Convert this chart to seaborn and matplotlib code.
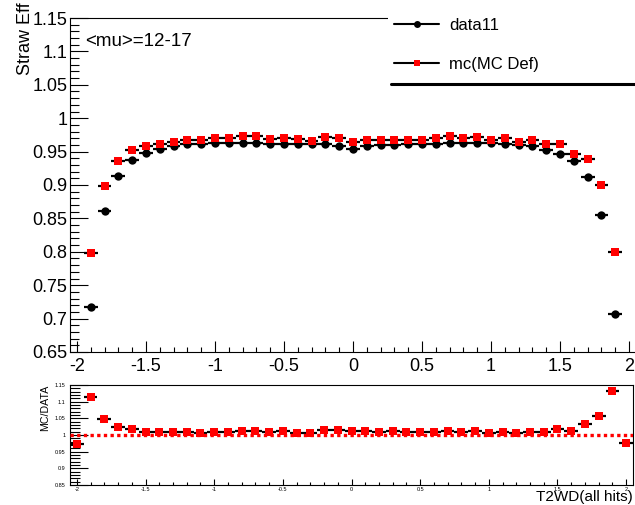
import numpy as np
import pandas as pd
import matplotlib
matplotlib.use("Agg")
import matplotlib.pyplot as plt
from matplotlib.ticker import MultipleLocator, FuncFormatter
from matplotlib.lines import Line2D
from matplotlib.patches import Rectangle
import seaborn as sns

# ---------------- data ----------------
bin_centers = [-1.9, -1.8, -1.7, -1.6, -1.5, -1.4, -1.3, -1.2, -1.1, -1.0,
               -0.9, -0.8, -0.7, -0.6, -0.5, -0.4, -0.3, -0.2, -0.1, 0.0,
               0.1, 0.2, 0.3, 0.4, 0.5, 0.6, 0.7, 0.8, 0.9, 1.0,
               1.1, 1.2, 1.3, 1.4, 1.5, 1.6, 1.7, 1.8, 1.9]
data11 = [0.718, 0.861, 0.914, 0.937, 0.948, 0.954, 0.958, 0.961, 0.962, 0.963,
          0.963, 0.963, 0.963, 0.962, 0.962, 0.962, 0.961, 0.961, 0.959, 0.954,
          0.959, 0.960, 0.960, 0.961, 0.961, 0.961, 0.963, 0.963, 0.963, 0.963,
          0.961, 0.960, 0.959, 0.952, 0.947, 0.936, 0.912, 0.855, 0.707]
mc_def = [0.798, 0.899, 0.936, 0.953, 0.958, 0.962, 0.965, 0.967, 0.967, 0.970,
          0.971, 0.973, 0.973, 0.969, 0.971, 0.969, 0.966, 0.972, 0.971, 0.964,
          0.968, 0.968, 0.968, 0.968, 0.968, 0.970, 0.974, 0.971, 0.972, 0.968,
          0.970, 0.965, 0.967, 0.961, 0.961, 0.946, 0.939, 0.900, 0.800]

ratio_x = [-2.0, -1.9, -1.8, -1.7, -1.6, -1.5, -1.4, -1.3, -1.2, -1.1, -1.0,
           -0.9, -0.8, -0.7, -0.6, -0.5, -0.4, -0.3, -0.2, -0.1, 0.0,
           0.1, 0.2, 0.3, 0.4, 0.5, 0.6, 0.7, 0.8, 0.9, 1.0,
           1.1, 1.2, 1.3, 1.4, 1.5, 1.6, 1.7, 1.8, 1.9, 2.0]
ratio = [0.973, 1.115, 1.047, 1.025, 1.017, 1.009, 1.009, 1.009, 1.009, 1.007, 1.009,
         1.009, 1.012, 1.012, 1.009, 1.012, 1.007, 1.005, 1.015, 1.015, 1.011,
         1.011, 1.009, 1.012, 1.009, 1.009, 1.009, 1.012, 1.009, 1.012, 1.007,
         1.009, 1.007, 1.009, 1.009, 1.017, 1.011, 1.032, 1.057, 1.133, 0.975]
half_bin = 0.05

top_df = pd.DataFrame({"x": bin_centers, "data11": data11, "mc": mc_def})
rat_df = pd.DataFrame({"x": ratio_x, "ratio": ratio})

# ---------------- style ----------------
sns.set_style("ticks", rc={"axes.edgecolor": "black", "xtick.color": "black",
                           "ytick.color": "black", "text.color": "black",
                           "axes.labelcolor": "black", "axes.linewidth": 0.8})
plt.rcParams["font.family"] = ["Liberation Sans", "DejaVu Sans"]

W, H = 635, 505
fig = plt.figure(figsize=(W / 100, H / 100), dpi=100)
fig.patch.set_facecolor("white")

ax = fig.add_axes([70 / W, 153 / H, 566 / W, 334 / H])
axr = fig.add_axes([70 / W, 20 / H, 563 / W, 100 / H])

gfmt = FuncFormatter(lambda v, p: f"{v:g}")

# ---------------- top panel ----------------
ax.hlines(top_df["data11"], top_df["x"] - half_bin, top_df["x"] + half_bin,
          color="black", lw=1.6, zorder=2)
ax.hlines(top_df["mc"], top_df["x"] - half_bin, top_df["x"] + half_bin,
          color="black", lw=1.6, zorder=2)
sns.scatterplot(data=top_df, x="x", y="data11", marker="o", color="black",
                s=36, linewidth=0, ax=ax, zorder=3, legend=False)
sns.scatterplot(data=top_df, x="x", y="mc", marker="s", color="red",
                s=28, linewidth=0, ax=ax, zorder=4, legend=False)

ax.set_xlim(-2.05, 2.05)
ax.set_ylim(0.65, 1.15)
ax.set_xlabel("")
ax.set_ylabel("")
ax.xaxis.set_major_locator(MultipleLocator(0.5))
ax.xaxis.set_minor_locator(MultipleLocator(0.1))
ax.yaxis.set_major_locator(MultipleLocator(0.05))
ax.yaxis.set_minor_locator(MultipleLocator(0.01))
ax.xaxis.set_major_formatter(gfmt)
ax.yaxis.set_major_formatter(gfmt)
ax.tick_params(axis="y", which="major", direction="in", length=12.7, width=0.8,
               labelsize=13, pad=2)
ax.tick_params(axis="y", which="minor", direction="in", length=6.7, width=0.8)
ax.tick_params(axis="x", which="major", direction="in", length=7.6, width=0.8,
               labelsize=13, pad=4)
ax.tick_params(axis="x", which="minor", direction="in", length=3.6, width=0.8)

fig.text(25 / W, 1 - 2 / H, "Straw Eff", rotation=90, ha="center", va="top",
         fontsize=13)
fig.text(85 / W, 1 - 42 / H, "<mu>=12-17", ha="left", va="center", fontsize=13.5)

# legend box
fig.add_artist(Rectangle((388 / W, 1 - 83 / H), 247 / W, 83 / H,
                         transform=fig.transFigure, facecolor="white",
                         edgecolor="none", zorder=5))
fig.add_artist(Line2D([391 / W, 1.0], [1 - 83.5 / H, 1 - 83.5 / H],
                      transform=fig.transFigure, color="black", lw=2.2,
                      zorder=6))
handles = [
    Line2D([], [], color="black", lw=1.5, marker="o", markersize=5,
           markerfacecolor="black", markeredgewidth=0),
    Line2D([], [], color="black", lw=1.5, marker="s", markersize=5,
           markerfacecolor="red", markeredgewidth=0),
]
leg = fig.legend(handles, ["data11", "mc(MC Def)"], loc="upper left",
                 bbox_to_anchor=(394 / W, 1 - 18 / H), frameon=False,
                 fontsize=12, handlelength=2.7, handletextpad=0.6,
                 labelspacing=1.45, borderpad=0, borderaxespad=0)
leg.set_zorder(10)

# ---------------- ratio panel ----------------
axr.hlines(rat_df["ratio"], rat_df["x"] - half_bin, rat_df["x"] + half_bin,
           color="black", lw=1.6, zorder=2)
axr.axhline(1.0, color="red", lw=2.4, linestyle=(0, (1, 1)), zorder=3)
sns.scatterplot(data=rat_df, x="x", y="ratio", marker="s", color="red",
                s=28, linewidth=0, ax=axr, zorder=4, legend=False)
axr.set_xlim(-2.05, 2.05)
axr.set_ylim(0.85, 1.15)
axr.set_xlabel("")
axr.set_ylabel("")
axr.xaxis.set_major_locator(MultipleLocator(0.5))
axr.xaxis.set_minor_locator(MultipleLocator(0.1))
axr.yaxis.set_major_locator(MultipleLocator(0.05))
axr.yaxis.set_minor_locator(MultipleLocator(0.01))
axr.xaxis.set_major_formatter(gfmt)
axr.yaxis.set_major_formatter(gfmt)
axr.tick_params(axis="y", which="major", direction="in", length=13, width=0.8,
                labelsize=4, pad=3)
axr.tick_params(axis="y", which="minor", direction="in", length=7, width=0.8)
axr.tick_params(axis="x", which="major", direction="in", length=4, width=0.8,
                labelsize=4, pad=1.5)
axr.tick_params(axis="x", which="minor", direction="in", length=2.2, width=0.8)

fig.text(45 / W, 1 - 385 / H, "MC/DATA", rotation=90, ha="center", va="top",
         fontsize=7.7)
fig.text(633 / W, 1 - 497 / H, "T2WD(all hits)", ha="right", va="center",
         fontsize=11)

fig.savefig("out.png", dpi=100, facecolor="white")
